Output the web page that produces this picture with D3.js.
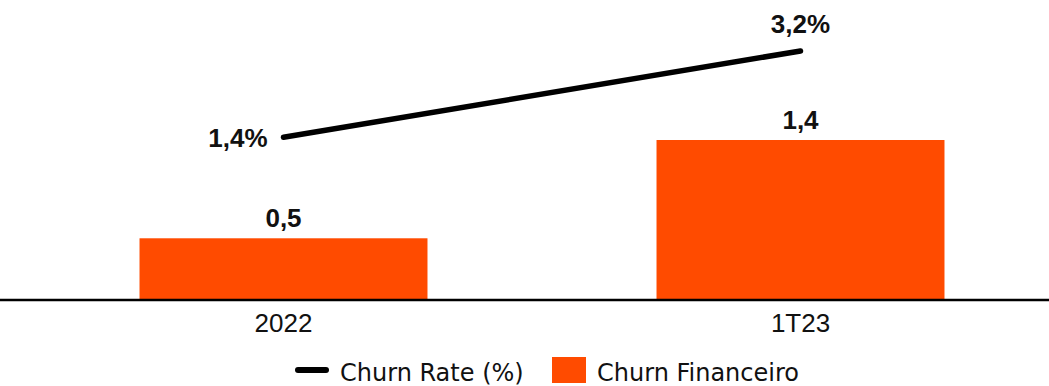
<!DOCTYPE html>
<html>
<head>
<meta charset="utf-8">
<script src="https://cdn.jsdelivr.net/npm/d3@7"></script>
<style>
  html, body { margin: 0; padding: 0; background: #fff; }
  svg { display: block; }
</style>
</head>
<body>
<svg id="chart" width="1049" height="386"></svg>
<script>
const categories = ["2022", "1T23"];
const churnFinanceiro = [0.54, 1.4];
const churnRate = [1.4, 3.2];
const seriesNames = ["Churn Rate (%)", "Churn Financeiro"];

const W = 1049, H = 386;
const orange = "#ff4b00";
const svg = d3.select("#chart");

const x = d3.scaleBand().domain(categories).range([25, 1059])
  .paddingInner(0.443).paddingOuter(0.2215);
const yBar = d3.scaleLinear().domain([0, 1.4]).range([300, 140]);
const yLine = d3.scaleLinear().domain([0, 4]).range([204.4, 12.6]);

const fmt = v => d3.format(".1f")(v).replace(".", ",");

// bars
svg.append("g").selectAll("rect").data(categories).join("rect")
  .attr("x", d => x(d))
  .attr("width", x.bandwidth())
  .attr("y", (d, i) => yBar(churnFinanceiro[i]))
  .attr("height", (d, i) => yBar(0) - yBar(churnFinanceiro[i]))
  .attr("fill", orange);

// bar labels
svg.append("g").selectAll("text").data(categories).join("text")
  .attr("x", d => x(d) + x.bandwidth() / 2)
  .attr("y", (d, i) => yBar(churnFinanceiro[i]) - 11)
  .attr("text-anchor", "middle")
  .attr("font-family", "Liberation Sans, Arial, sans-serif")
  .attr("font-weight", "bold")
  .attr("font-size", 26)
  .attr("fill", "#111")
  .text((d, i) => fmt(churnFinanceiro[i]));

// axis
const axis = d3.axisBottom(x).tickSize(0).tickPadding(14);
const gAxis = svg.append("g").attr("transform", "translate(0,300)").call(axis);
gAxis.select(".domain").remove();
gAxis.append("line").attr("x1", 0).attr("x2", W).attr("y1", 0).attr("y2", 0)
  .attr("stroke", "#000").attr("stroke-width", 2.5);
gAxis.selectAll(".tick text")
  .attr("font-family", "Liberation Sans, Arial, sans-serif")
  .attr("font-size", 26)
  .attr("fill", "#111");

// line
const cx = d => x(d) + x.bandwidth() / 2;
const line = d3.line().x(d => cx(d)).y((d, i) => yLine(churnRate[i]));
svg.append("path").datum(categories)
  .attr("d", line)
  .attr("fill", "none")
  .attr("stroke", "#000")
  .attr("stroke-width", 5.5)
  .attr("stroke-linecap", "round");

// line labels
svg.append("g").selectAll("text").data(categories).join("text")
  .attr("x", (d, i) => i === 0 ? cx(d) - 16 : cx(d))
  .attr("y", (d, i) => i === 0 ? yLine(churnRate[i]) + 10 : yLine(churnRate[i]) - 18)
  .attr("text-anchor", (d, i) => i === 0 ? "end" : "middle")
  .attr("font-family", "Liberation Sans, Arial, sans-serif")
  .attr("font-weight", "bold")
  .attr("font-size", 26)
  .attr("fill", "#111")
  .text((d, i) => fmt(churnRate[i]) + "%");

// legend
const lg = svg.append("g").attr("font-family", "DejaVu Sans, Verdana, sans-serif")
  .attr("font-size", 24).attr("fill", "#111");
lg.append("line").attr("x1", 298).attr("x2", 326).attr("y1", 370).attr("y2", 370)
  .attr("stroke", "#000").attr("stroke-width", 6).attr("stroke-linecap", "round");
lg.append("text").attr("x", 340).attr("y", 381).text(seriesNames[0]);
lg.append("rect").attr("x", 552).attr("y", 357).attr("width", 34).attr("height", 26)
  .attr("fill", orange);
lg.append("text").attr("x", 597).attr("y", 381).text(seriesNames[1]);
</script>
</body>
</html>
